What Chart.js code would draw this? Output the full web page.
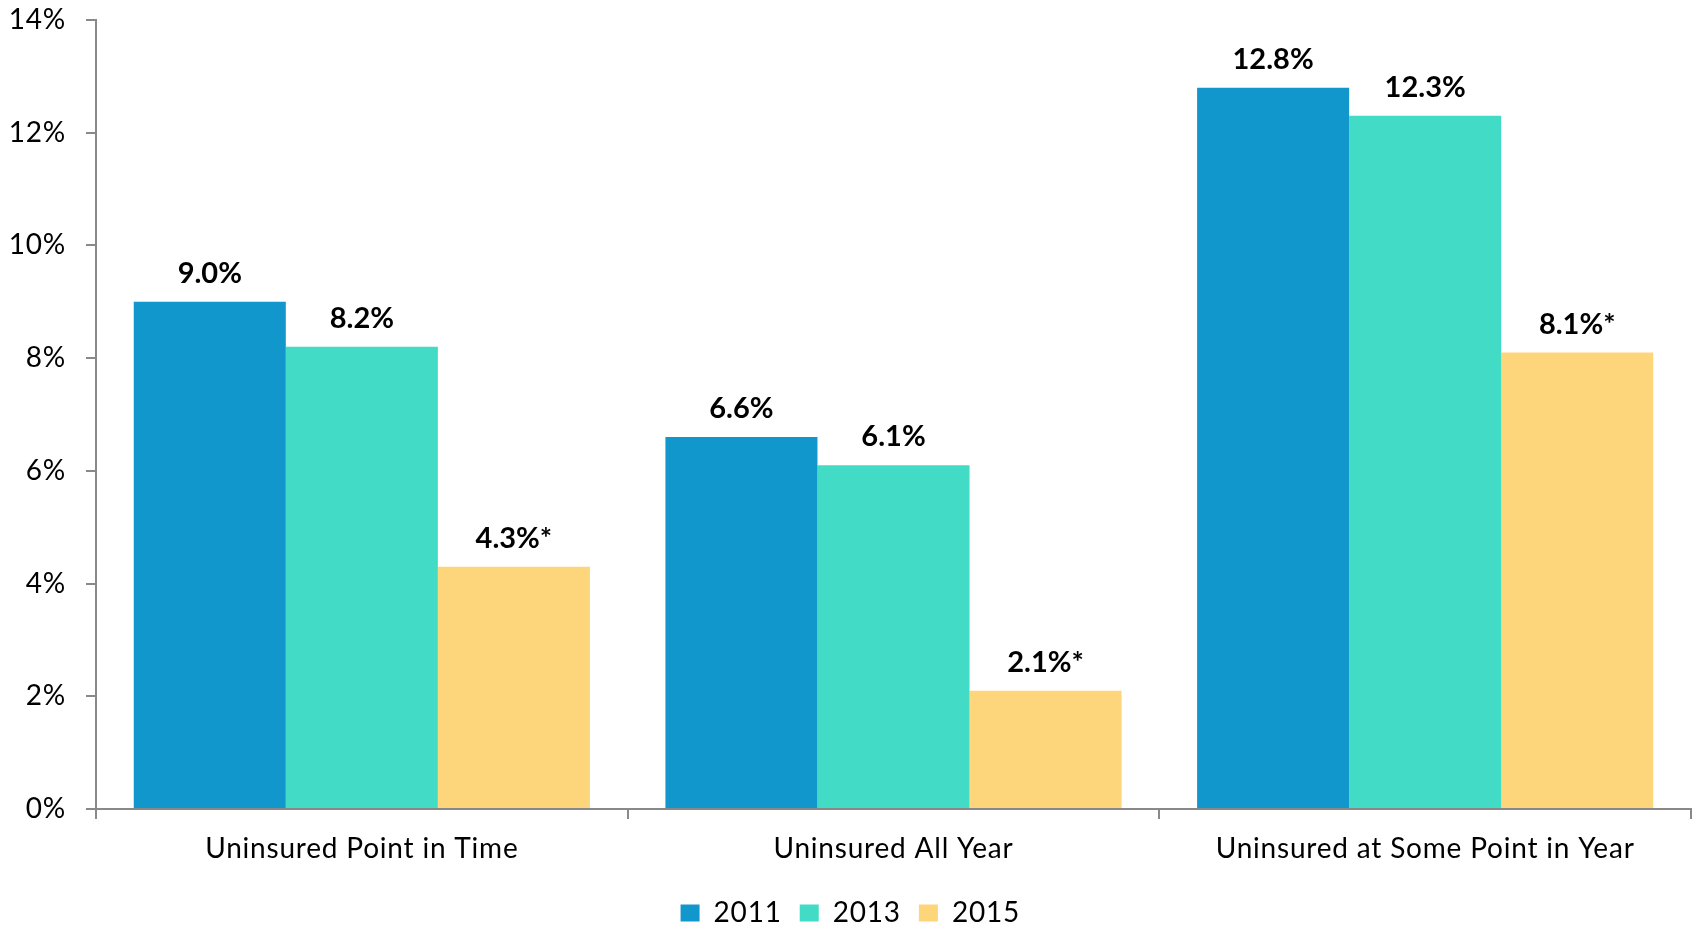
<!DOCTYPE html>
<html>
<head>
<meta charset="utf-8">
<script src="https://cdn.jsdelivr.net/npm/chart.js@4.4.1/dist/chart.umd.min.js"></script>
<style>
  html, body { margin: 0; padding: 0; background: #fff; }
</style>
</head>
<body>
<canvas id="uninsuredChart" width="1696" height="925"></canvas>
<script>
// категории и значения (в процентах)
const categories = ['Uninsured Point in Time', 'Uninsured All Year', 'Uninsured at Some Point in Year'];
const years = ['2011', '2013', '2015'];
const values2011 = [9.0, 6.6, 12.8];
const values2013 = [8.2, 6.1, 12.3];
const values2015 = [4.3, 2.1, 8.1];
// звёздочка = значимое изменение
const labels2011 = ['9.0%', '6.6%', '12.8%'];
const labels2013 = ['8.2%', '6.1%', '12.3%'];
const labels2015 = ['4.3%*', '2.1%*', '8.1%*'];
const yTicks = [0, 2, 4, 6, 8, 10, 12, 14];

const colors = ['#1297cd', '#42dbc6', '#fdd57a'];
const FONT = 'Lato, Calibri, sans-serif';

// чуть разреженный текст, как в оригинале
const textSpacing = {
  id: 'textSpacing',
  beforeDraw(chart) { chart.ctx.letterSpacing = '0.8px'; }
};

// подписи над столбцами
const barLabels = {
  id: 'barLabels',
  afterDatasetsDraw(chart) {
    const ctx = chart.ctx;
    ctx.save();
    ctx.letterSpacing = '0px';
    ctx.font = 'bold 29px ' + FONT;
    ctx.fillStyle = '#000';
    ctx.textAlign = 'center';
    ctx.textBaseline = 'alphabetic';
    chart.data.datasets.forEach((ds, i) => {
      chart.getDatasetMeta(i).data.forEach((bar, j) => {
        ctx.fillText(ds.valueLabels[j], bar.x, bar.y - 19);
      });
    });
    ctx.restore();
  }
};

const chart = new Chart(document.getElementById('uninsuredChart').getContext('2d'), {
  type: 'bar',
  data: {
    labels: categories,
    datasets: [
      { label: years[0], data: values2011, valueLabels: labels2011, backgroundColor: colors[0] },
      { label: years[1], data: values2013, valueLabels: labels2013, backgroundColor: colors[1] },
      { label: years[2], data: values2015, valueLabels: labels2015, backgroundColor: colors[2] }
    ]
  },
  options: {
    responsive: false,
    devicePixelRatio: 1,
    animation: false,
    layout: { padding: { left: 0, right: 5, top: 20, bottom: -12 } },
    datasets: {
      bar: { categoryPercentage: 0.858, barPercentage: 1, borderWidth: 0 }
    },
    plugins: {
      tooltip: { enabled: false },
      legend: {
        position: 'bottom',
        labels: {
          font: { family: FONT, size: 28 },
          color: '#000',
          boxWidth: 19,
          boxHeight: 17,
          padding: 18
        }
      }
    },
    scales: {
      x: {
        grid: {
          display: true,
          offset: true,
          drawOnChartArea: false,
          drawTicks: true,
          tickLength: 10,
          color: '#898989',
          lineWidth: 2
        },
        border: { display: true, color: '#898989', width: 2 },
        ticks: {
          color: '#000',
          font: { family: FONT, size: 28 },
          padding: 13,
          maxRotation: 0,
          minRotation: 0
        },
        afterFit(scale) { scale.height = 72; }
      },
      y: {
        min: 0,
        max: 14,
        afterBuildTicks(scale) { scale.ticks = yTicks.map(v => ({ value: v })); },
        grid: {
          display: true,
          drawOnChartArea: false,
          drawTicks: true,
          tickLength: 10,
          color: '#898989',
          lineWidth: 2
        },
        border: { display: true, color: '#898989', width: 2 },
        ticks: {
          color: '#000',
          font: { family: FONT, size: 28 },
          padding: 20,
          callback: v => v + '%'
        },
        afterFit(scale) {
          scale.width = 96;
          scale.paddingTop = 0;
          scale.paddingBottom = 0;
        }
      }
    }
  },
  plugins: [textSpacing, barLabels]
});
</script>
</body>
</html>
